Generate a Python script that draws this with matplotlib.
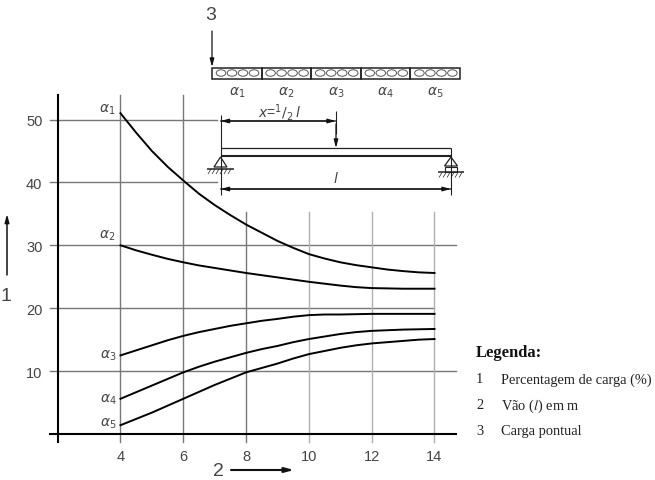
import matplotlib
matplotlib.use("Agg")
import matplotlib.pyplot as plt
from matplotlib.patches import Ellipse, Rectangle, Polygon

spans = [4, 4.5, 5, 5.5, 6, 6.5, 7, 7.5, 8, 8.5, 9, 9.5, 10, 10.5, 11, 11.5, 12, 12.5, 13, 13.5, 14]
alpha1 = [51.0, 47.9, 45.0, 42.5, 40.3, 38.2, 36.4, 34.8, 33.3, 32.0, 30.7, 29.6, 28.6, 27.9, 27.3, 26.85, 26.5, 26.15, 25.9, 25.7, 25.6]
alpha2 = [30.0, 29.2, 28.5, 27.85, 27.3, 26.8, 26.4, 26.0, 25.6, 25.25, 24.9, 24.55, 24.2, 23.9, 23.6, 23.35, 23.2, 23.15, 23.1, 23.1, 23.1]
alpha3 = [12.5, 13.3, 14.1, 14.9, 15.6, 16.2, 16.7, 17.2, 17.6, 18.0, 18.3, 18.65, 18.9, 19.0, 19.0, 19.05, 19.1, 19.1, 19.1, 19.1, 19.1]
alpha4 = [5.6, 6.65, 7.7, 8.75, 9.8, 10.7, 11.5, 12.2, 12.9, 13.5, 14.0, 14.6, 15.1, 15.5, 15.9, 16.2, 16.4, 16.5, 16.6, 16.65, 16.7]
alpha5 = [1.4, 2.4, 3.4, 4.5, 5.6, 6.7, 7.8, 8.8, 9.8, 10.5, 11.2, 12.0, 12.7, 13.2, 13.7, 14.1, 14.4, 14.6, 14.8, 15.0, 15.1]
curves = [alpha1, alpha2, alpha3, alpha4, alpha5]
curve_names = [r"$\alpha_1$", r"$\alpha_2$", r"$\alpha_3$", r"$\alpha_4$", r"$\alpha_5$"]

x_ticks = [4, 6, 8, 10, 12, 14]
y_ticks = [10, 20, 30, 40, 50]
legend_nums = ["1", "2", "3"]
legend_txt = ["Percentagem de carga (%)", "Vão ($l$) em m", "Carga pontual"]

W, H = 655, 481
TXT = "#444444"
SANS = "Liberation Sans"
SERIF = "Liberation Serif"

fig = plt.figure(figsize=(W / 100, H / 100), dpi=100)
ax = fig.add_axes([57.7 / W, (H - 443) / H, 398.3 / W, 347 / H])
ax.set_xlim(2, 14.685)
ax.set_ylim(-1.272, 53.9)
for s in ["top", "right", "bottom"]:
    ax.spines[s].set_visible(False)
ax.spines["left"].set_linewidth(1.5)
ax.patch.set_alpha(0)

ax.set_xticks(x_ticks)
ax.set_yticks(y_ticks)
ax.tick_params(length=0, labelsize=10.5, labelcolor=TXT)
ax.tick_params(axis="x", pad=5)
ax.tick_params(axis="y", pad=11)
for lab in ax.get_xticklabels() + ax.get_yticklabels():
    lab.set_fontfamily(SANS)

# grid lines stop at different places, the beam sketch sits over the top part
h_ends = {50: 7.06, 40: 7.06, 30: 14.68, 20: 14.0, 10: 14.68}
for y, xe in h_ends.items():
    ax.plot([1.75, xe], [y, y], color="#777777", lw=1.0, clip_on=False, zorder=1)
ax.plot([1.75, 14.68], [0, 0], color="black", lw=1.5, clip_on=False, zorder=2)
for x in x_ticks:
    top = 53.9 if x < 8 else 35.3
    col = "#777777" if x < 10 else "#b0b0b0"
    ax.plot([x, x], [-1.272, top], color=col, lw=1.0, clip_on=False, zorder=1)

for c in curves:
    ax.plot(spans, c, color="black", lw=1.4, zorder=3, solid_joinstyle="round")

# overlay in pixel coordinates for the sketch and the labels
ov = fig.add_axes([0, 0, 1, 1])
ov.set_xlim(0, W)
ov.set_ylim(H, 0)
ov.axis("off")
ov.patch.set_alpha(0)


def line(x0, y0, x1, y1, lw=0.8, color="#222222"):
    ov.plot([x0, x1], [y0, y1], color=color, lw=lw, solid_capstyle="butt")


def arrow(x0, y0, x1, y1, lw=0.9, size=8):
    ov.annotate("", xy=(x1, y1), xytext=(x0, y0),
                arrowprops=dict(arrowstyle="-|>,head_length=0.6,head_width=0.16", color="#111111",
                                lw=lw, shrinkA=0, shrinkB=0, mutation_scale=size))


def label(x, y, s, size=9, **kw):
    ov.text(x, y, s, fontsize=size, color=TXT, ha="center", va="center", family=SANS, **kw)


def hatch(x0, x1, y):
    n = x0
    while n < x1:
        line(n + 3, y, n, y + 5, lw=0.5)
        n += 4


side_labels = [(107, 110), (107, 236), (108, 356), (108, 400), (108, 424)]
for (px, py), name in zip(side_labels, curve_names):
    label(px, py, name, size=10, math_fontfamily="dejavusans")

# slab with hollow cores
slab_x, slab_w, slab_top, slab_h = 212, 49.6, 68.5, 11
for i, name in enumerate(curve_names):
    x0 = slab_x + i * slab_w
    ov.add_patch(Rectangle((x0, slab_top), slab_w, slab_h, fc="none", ec="#222222", lw=1.1))
    for off in [9, 20, 31, 42]:
        ov.add_patch(Ellipse((x0 + off, slab_top + slab_h / 2), 9.5, 6.5, fc="none", ec="#555555", lw=0.7))
    label(x0 + 25, 93, name, size=10, math_fontfamily="dejavusans")

arrow(212, 32, 212, 68)
label(211, 16, "3", size=14)
arrow(7, 276, 7, 215, lw=1.1)
label(6, 297, "1", size=14)
arrow(231, 471, 294, 471, lw=1.5, size=9)
label(218, 472, "2", size=14)

# beam
line(220.5, 149, 451, 149, lw=0.9)
line(220.5, 157, 451, 157, lw=1.5)
line(220.5, 116, 220.5, 196)
line(451, 149, 451, 196)

ov.add_patch(Polygon([(220.5, 158), (214, 168), (227, 168)], fc="none", ec="#222222", lw=0.9))
line(207, 169.5, 234, 169.5, lw=1.1)
hatch(208, 232, 170)

ov.add_patch(Polygon([(451, 158), (444.5, 167), (457.5, 167)], fc="none", ec="#222222", lw=0.9))
ov.add_patch(Rectangle((445, 168), 12, 4.5, fc="none", ec="#222222", lw=0.8))
line(438, 173, 464, 173, lw=1.1)
hatch(439, 462, 173.5)

# dimensions
arrow(336, 122, 220.5, 122)
arrow(220.5, 122, 336, 122)
line(336, 112, 336, 135)
arrow(336, 125, 336, 149)
arrow(451, 190, 220.5, 190)
arrow(220.5, 190, 451, 190)
label(279, 112, r"$x$=$^1/_2\,l$", size=10, math_fontfamily="dejavusans")
label(336, 179, r"$l$", size=10, math_fontfamily="dejavusans")

# legend
ov.text(476, 353, "Legenda:", family=SERIF, fontweight="bold", fontsize=12, color="#111111", va="center")
for py, n, t in zip([380, 406, 432], legend_nums, legend_txt):
    ov.text(476, py, n, family=SERIF, fontsize=10.4, color="#222222", va="center")
    ov.text(501, py, t, family=SERIF, fontsize=10.4, color="#222222", va="center", math_fontfamily="stix")

fig.savefig("out.png", dpi=100)
